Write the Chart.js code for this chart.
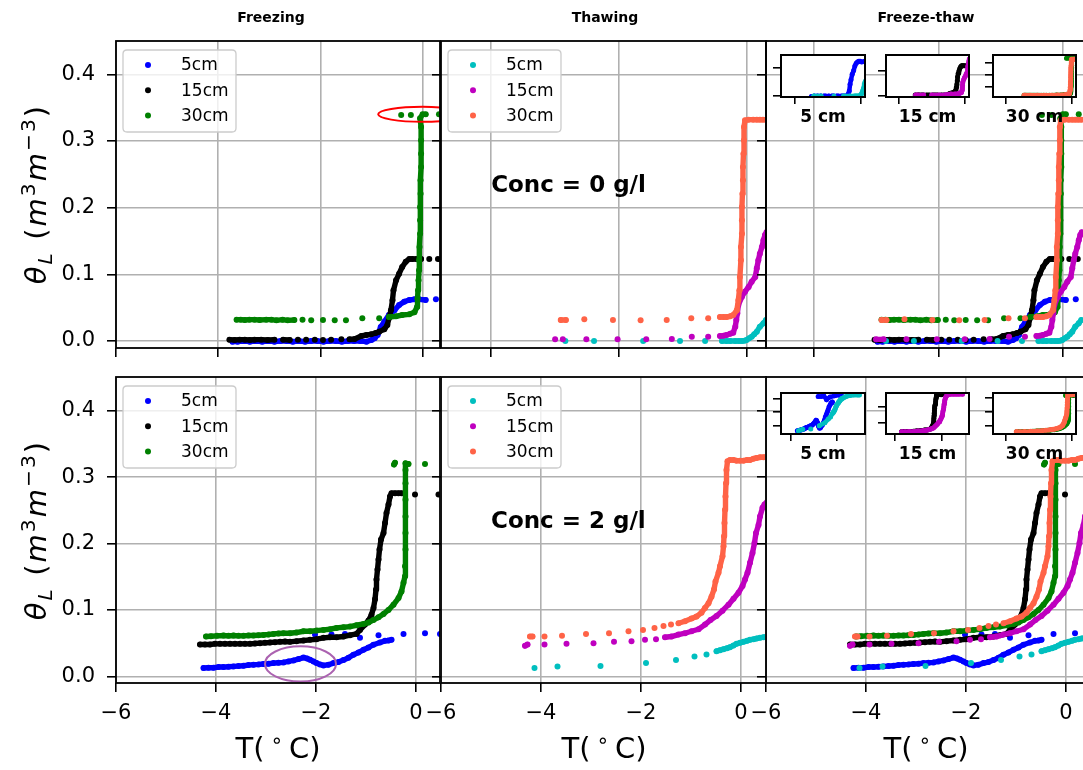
<!DOCTYPE html>
<html>
<head>
<meta charset="utf-8">
<title>Liquid water content during freezing and thawing</title>
<script src="https://cdn.jsdelivr.net/npm/chart.js@4.4.0/dist/chart.umd.min.js"></script>
<style>
  html, body { margin: 0; padding: 0; background: #fff; }
  body { position: relative; width: 1083px; height: 770px; overflow: hidden; font-family: "DejaVu Sans", sans-serif; color: #000; }
  canvas { position: absolute; }
  .txt { position: absolute; white-space: nowrap; transform: translate(-50%, -50%); line-height: 1; }
  .col { font-size: 14px; font-weight: bold; }
  .axl { font-size: 29px; }
  .ylab { font-size: 29px; letter-spacing: 2px; transform: translate(-50%, -50%) rotate(-90deg); }
  .ins { font-size: 17px; font-weight: bold; }
  sub, sup { font-size: 70%; line-height: 0; }
</style>
</head>
<body>
<script>
// liquid water content (m3/m3) against soil temperature (°C)
// conc = 0 g/l, freezing
const f0_5cm_T = [-3.72, -3.62, -3.50, -3.38, -3.26, -3.14, -3.02, -2.90, -2.78, -2.66, -2.54, -2.42, -2.30, -2.18, -2.06, -1.94, -1.82, -1.70, -1.58, -1.46, -1.34, -1.22, -1.10, -1.00, -0.94, -0.88, -0.82, -0.75, -0.66, -0.55, -0.46, -0.36, -0.26, -0.16, -0.07, 0.06, 0.26];
const f0_5cm_q = [-0.001, -0.001, 0, -0.001, 0, -0.001, 0, -0.001, 0, 0, -0.001, 0, -0.001, 0, 0, -0.001, 0, 0, -0.001, 0, 0, 0, -0.001, 0.0015, 0.004, 0.009, 0.021, 0.029, 0.039, 0.046, 0.054, 0.059, 0.0615, 0.0625, 0.0625, 0.0615, 0.0625];
const f0_15cm_T = [-3.78, -3.68, -3.58, -3.48, -3.38, -3.29, -3.16, -3.03, -2.90, -2.73, -2.60, -2.44, -2.28, -2.11, -1.95, -1.79, -1.59, -1.43, -1.33, -1.20, -1.10, -1.01, -0.92, -0.85, -0.75, -0.69, -0.66, -0.62, -0.59, -0.57, -0.52, -0.46, -0.40, -0.33, -0.26, -0.20, -0.12, -0.03, 0.13, 0.30];
const f0_15cm_q = [0.002, 0.0015, 0.002, 0.002, 0.0015, 0.002, 0.002, 0.0015, 0.002, 0.002, 0.0015, 0.002, 0.002, 0.002, 0.0015, 0.002, 0.0025, 0.0025, 0.003, 0.0075, 0.009, 0.010, 0.012, 0.014, 0.0175, 0.024, 0.034, 0.046, 0.061, 0.076, 0.091, 0.101, 0.111, 0.119, 0.123, 0.123, 0.123, 0.123, 0.123, 0.123];
const f0_30cm_T = [-3.64, -3.56, -3.48, -3.39, -3.29, -3.19, -3.06, -2.96, -2.86, -2.74, -2.64, -2.51, -2.35, -2.18, -1.95, -1.72, -1.50, -1.18, -0.85, -0.66, -0.52, -0.40, -0.26, -0.16, -0.11, -0.10, -0.09, -0.08, -0.07, -0.07, -0.06, -0.05, -0.05, -0.05, -0.04, -0.04, -0.03, -0.03, -0.03, -0.03, -0.05, 0.00, 0.06, 0.32, -0.23, -0.42];
const f0_30cm_q = [0.032, 0.032, 0.0315, 0.032, 0.032, 0.0315, 0.032, 0.032, 0.031, 0.032, 0.031, 0.0315, 0.032, 0.031, 0.0315, 0.031, 0.031, 0.034, 0.034, 0.036, 0.037, 0.039, 0.040, 0.043, 0.051, 0.064, 0.076, 0.091, 0.106, 0.121, 0.141, 0.161, 0.181, 0.201, 0.221, 0.241, 0.261, 0.281, 0.301, 0.321, 0.334, 0.340, 0.340, 0.340, 0.339, 0.339];
// conc = 0 g/l, thawing
const t0_5cm_T = [-3.55, -2.99, -2.03, -1.31, -0.82, -0.49, -0.40, -0.33, -0.23, -0.16, -0.10, -0.05, -0.01, 0.04, 0.09, 0.14, 0.19, 0.25, 0.32, 0.37];
const t0_5cm_q = [0, 0, 0, 0, 0, 0, 0, 0, 0, 0, 0, 0.0005, 0.0015, 0.004, 0.0065, 0.010, 0.014, 0.0215, 0.0265, 0.0315];
const t0_15cm_T = [-3.75, -3.60, -3.14, -2.53, -1.97, -1.47, -1.08, -0.76, -0.53, -0.46, -0.40, -0.33, -0.27, -0.23, -0.21, -0.19, -0.17, -0.10, -0.04, 0.03, 0.09, 0.16, 0.19, 0.22, 0.25, 0.29, 0.32, 0.35, 0.38];
const t0_15cm_q = [0.0025, 0.0025, 0.0025, 0.0025, 0.0025, 0.003, 0.0065, 0.0065, 0.0075, 0.008, 0.009, 0.011, 0.0125, 0.0215, 0.0315, 0.0415, 0.054, 0.0665, 0.074, 0.081, 0.089, 0.096, 0.109, 0.121, 0.131, 0.141, 0.151, 0.159, 0.163];
const t0_30cm_T = [-3.64, -3.54, -3.18, -2.62, -2.08, -1.57, -1.09, -0.76, -0.53, -0.46, -0.40, -0.33, -0.27, -0.20, -0.17, -0.15, -0.14, -0.12, -0.12, -0.10, -0.10, -0.10, -0.09, -0.08, -0.08, -0.07, -0.06, -0.06, -0.04, 0.03, 0.12, 0.19, 0.25, 0.31, 0.37];
const t0_30cm_q = [0.0315, 0.0315, 0.0325, 0.0315, 0.031, 0.0315, 0.034, 0.034, 0.036, 0.036, 0.036, 0.037, 0.039, 0.046, 0.061, 0.076, 0.096, 0.121, 0.141, 0.161, 0.181, 0.201, 0.221, 0.241, 0.261, 0.281, 0.301, 0.321, 0.331, 0.332, 0.332, 0.332, 0.332, 0.332, 0.332];
// conc = 2 g/l, freezing
const f2_5cm_T = [-4.25, -4.15, -4.05, -3.95, -3.85, -3.75, -3.65, -3.55, -3.45, -3.35, -3.25, -3.15, -3.05, -2.95, -2.85, -2.75, -2.65, -2.55, -2.45, -2.35, -2.25, -2.18, -2.12, -2.05, -1.99, -1.92, -1.85, -1.75, -1.65, -1.55, -1.45, -1.35, -1.25, -1.15, -1.05, -0.95, -0.85, -0.72, -0.62, -0.55, -0.49, -2.02, -1.69, -1.42, -1.12, -0.75, -0.25, 0.18, 0.48];
const f2_5cm_q = [0.0126, 0.013, 0.013, 0.014, 0.014, 0.0145, 0.015, 0.0155, 0.016, 0.017, 0.0176, 0.018, 0.0187, 0.019, 0.020, 0.0205, 0.021, 0.0225, 0.024, 0.026, 0.0283, 0.027, 0.025, 0.0225, 0.020, 0.018, 0.0165, 0.0175, 0.020, 0.0215, 0.0245, 0.028, 0.0327, 0.036, 0.040, 0.0435, 0.0477, 0.051, 0.0535, 0.054, 0.055, 0.063, 0.063, 0.064, 0.058, 0.062, 0.064, 0.065, 0.064];
const f2_15cm_T = [-4.32, -4.22, -4.12, -4.02, -3.92, -3.82, -3.72, -3.62, -3.52, -3.42, -3.32, -3.22, -3.12, -3.02, -2.92, -2.82, -2.72, -2.62, -2.52, -2.39, -2.25, -2.12, -1.99, -1.85, -1.72, -1.59, -1.45, -1.32, -1.19, -1.12, -1.02, -0.95, -0.89, -0.85, -0.82, -0.80, -0.79, -0.77, -0.75, -0.73, -0.70, -0.65, -0.62, -0.59, -0.55, -0.52, -0.49, -0.42, -0.35, -0.29, -0.02, 0.45];
const f2_15cm_q = [0.048, 0.048, 0.048, 0.049, 0.049, 0.049, 0.049, 0.049, 0.049, 0.049, 0.049, 0.0495, 0.050, 0.0505, 0.051, 0.0515, 0.052, 0.0525, 0.052, 0.053, 0.054, 0.055, 0.056, 0.058, 0.059, 0.059, 0.060, 0.062, 0.064, 0.070, 0.078, 0.084, 0.093, 0.103, 0.116, 0.131, 0.146, 0.161, 0.176, 0.191, 0.206, 0.216, 0.231, 0.246, 0.259, 0.271, 0.276, 0.276, 0.276, 0.276, 0.274, 0.274];
const f2_30cm_T = [-4.20, -4.10, -3.98, -3.85, -3.75, -3.65, -3.55, -3.45, -3.35, -3.25, -3.15, -3.05, -2.95, -2.85, -2.75, -2.65, -2.52, -2.39, -2.25, -2.12, -1.99, -1.85, -1.72, -1.59, -1.45, -1.32, -1.19, -1.05, -0.95, -0.85, -0.75, -0.65, -0.55, -0.45, -0.35, -0.29, -0.25, -0.22, -0.22, -0.21, -0.21, -0.21, -0.21, -0.21, -0.21, -0.21, -0.15, 0.18, -0.44, -0.42];
const f2_30cm_q = [0.060, 0.0605, 0.061, 0.0615, 0.061, 0.0615, 0.061, 0.061, 0.0615, 0.0615, 0.062, 0.0625, 0.063, 0.064, 0.0645, 0.065, 0.065, 0.066, 0.068, 0.068, 0.069, 0.070, 0.071, 0.073, 0.074, 0.075, 0.077, 0.079, 0.081, 0.085, 0.089, 0.094, 0.100, 0.108, 0.118, 0.128, 0.141, 0.151, 0.166, 0.191, 0.216, 0.241, 0.266, 0.291, 0.311, 0.321, 0.320, 0.320, 0.319, 0.322];
// conc = 2 g/l, thawing
const t2_5cm_T = [-4.13, -3.67, -2.81, -1.90, -1.30, -0.93, -0.69, -0.49, -0.42, -0.35, -0.28, -0.22, -0.15, -0.09, -0.02, 0.05, 0.12, 0.18, 0.25, 0.31, 0.38, 0.45, 0.52, 0.60, 0.70, 0.85, 1.00, 1.20, 1.40, 1.60, 1.80, 2.00, 2.20, 2.40];
const t2_5cm_q = [0.0126, 0.015, 0.0155, 0.020, 0.0245, 0.030, 0.033, 0.038, 0.0395, 0.041, 0.0425, 0.044, 0.0465, 0.049, 0.0505, 0.052, 0.0535, 0.055, 0.056, 0.057, 0.058, 0.059, 0.060, 0.0605, 0.061, 0.062, 0.063, 0.064, 0.0645, 0.065, 0.065, 0.0655, 0.065, 0.065];
const t2_15cm_T = [-4.32, -4.27, -3.93, -3.49, -2.95, -2.54, -2.19, -1.92, -1.70, -1.52, -1.39, -1.25, -1.12, -0.99, -0.85, -0.72, -0.61, -0.49, -0.37, -0.25, -0.15, -0.05, 0.03, 0.08, 0.13, 0.18, 0.23, 0.27, 0.30, 0.35, 0.38, 0.43, 0.47, 0.55, 0.65, 0.80, 1.00, 1.30, 1.60, 1.90, 2.30];
const t2_15cm_q = [0.046, 0.048, 0.048, 0.049, 0.050, 0.052, 0.053, 0.055, 0.056, 0.059, 0.060, 0.063, 0.065, 0.068, 0.071, 0.078, 0.085, 0.091, 0.099, 0.108, 0.117, 0.126, 0.136, 0.146, 0.156, 0.171, 0.186, 0.201, 0.216, 0.228, 0.241, 0.254, 0.259, 0.266, 0.272, 0.276, 0.277, 0.278, 0.278, 0.277, 0.277];
const t2_30cm_T = [-4.22, -4.17, -3.93, -3.58, -3.10, -2.64, -2.25, -1.96, -1.73, -1.55, -1.40, -1.25, -1.12, -0.99, -0.89, -0.79, -0.72, -0.65, -0.59, -0.54, -0.51, -0.45, -0.42, -0.37, -0.35, -0.34, -0.33, -0.32, -0.31, -0.30, -0.29, -0.27, -0.22, -0.15, -0.09, -0.02, 0.05, 0.12, 0.18, 0.25, 0.31, 0.38, 0.45, 0.52];
const t2_30cm_q = [0.060, 0.060, 0.060, 0.061, 0.064, 0.065, 0.068, 0.070, 0.073, 0.076, 0.078, 0.080, 0.083, 0.087, 0.090, 0.096, 0.103, 0.110, 0.120, 0.131, 0.143, 0.156, 0.166, 0.181, 0.196, 0.211, 0.231, 0.251, 0.271, 0.291, 0.311, 0.324, 0.326, 0.326, 0.325, 0.325, 0.325, 0.326, 0.326, 0.328, 0.329, 0.330, 0.330, 0.331];

const depths = ['5cm', '15cm', '30cm'];
const insetNames = ['5 cm', '15 cm', '30 cm'];
const stages = ['Freezing', 'Thawing', 'Freeze-thaw'];
const concNotes = ['Conc = 0 g/l', 'Conc = 2 g/l'];
const xTicksA = [-6, -4, -2, 0];
const xTicksB = [-5, -2.5, 0];
const yTicks = [0, 0.1, 0.2, 0.3, 0.4];
const insetXTicks = [-5, 0];

const freezeColors = ['#0000ff', '#000000', '#008000'];
const thawColors = ['#00bfbf', '#bf00bf', '#ff6347'];

const rows = [
  { freeze: [[f0_5cm_T, f0_5cm_q], [f0_15cm_T, f0_15cm_q], [f0_30cm_T, f0_30cm_q]],
    thaw: [[t0_5cm_T, t0_5cm_q], [t0_15cm_T, t0_15cm_q], [t0_30cm_T, t0_30cm_q]] },
  { freeze: [[f2_5cm_T, f2_5cm_q], [f2_15cm_T, f2_15cm_q], [f2_30cm_T, f2_30cm_q]],
    thaw: [[t2_5cm_T, t2_5cm_q], [t2_15cm_T, t2_15cm_q], [t2_30cm_T, t2_30cm_q]] }
];

// highlighted regions (centre and half-axes in data units)
const ringTop = { T: 0.0, q: 0.34, dT: 0.87, dq: 0.0112, color: '#ff0000' };
const ringBottom = { T: -2.31, q: 0.0188, dT: 0.71, dq: 0.0264, color: '#ab62b0' };

// layout
const colsX = [[116, 440], [441, 766], [766, 1091]];
const rowsY = [[41, 348], [377, 683]];
const xRange = [[[-6, 0.34], [-5.98, 0.37], [-5.96, 0.566]], [[-6, 0.48], [-6, 0.5], [-6, 0.5]]];
const yRange = [[-0.0105, 0.45], [-0.01, 0.451]];
const xTickSet = [[xTicksA, xTicksB, xTicksB], [xTicksA, xTicksA, xTicksA]];
const insetX = [[781, 865], [886, 969], [993, 1076]];
const insetY = [[55, 97], [393, 434]];
const insetXRange = [[[-6, 0.3], [-6, 0.3], [-6, 0.3]], [[-6, 3], [-6, 3], [-6, 0.35]]];
const insetYRange = [[[-0.002, 0.074], [-0.006, 0.167], [0.017, 0.367]], [[0.008, 0.068], [0.034, 0.285], [0.044, 0.337]]];
const insetYTicks = [[[0, 0.05], [0, 0.1], [0.1, 0.2, 0.3]], [[0.02, 0.04, 0.06], [0.1, 0.2], [0.1, 0.2, 0.3]]];

Chart.defaults.font.family = '"DejaVu Sans", sans-serif';
Chart.defaults.color = '#000';

const pts = (T, q) => T.map((t, i) => ({ x: t, y: q[i] }));
const fmtX = v => (v < 0 ? '\u2212' : '') + Math.abs(v);
const fmtY = v => v.toFixed(1);

// neighbouring samples closer than a dot are joined so dense runs read as a trail of dots
function trail(color) {
  return {
    borderColor: ctx => {
      const dx = Math.abs(ctx.p1.x - ctx.p0.x), dy = Math.abs(ctx.p1.y - ctx.p0.y);
      return dx < 7.5 && dy < 28 ? color : 'rgba(0,0,0,0)';
    }
  };
}

function series(pair, color, label, r) {
  return {
    label, data: pts(pair[0], pair[1]),
    showLine: true, borderColor: color, borderWidth: 1.8 * r,
    borderCapStyle: 'round', borderJoinStyle: 'round',
    backgroundColor: color, pointBackgroundColor: color, pointBorderWidth: 0,
    pointRadius: r, pointHoverRadius: r, tension: 0, fill: false, clip: 0,
    segment: trail(color)
  };
}

function axis(min, max, ticks, o) {
  return {
    type: 'linear', min, max,
    afterBuildTicks: s => { s.ticks = ticks.map(v => ({ value: v })); },
    afterFit: s => { if (o.horizontal) s.height = o.size; else s.width = o.size; },
    grid: { drawOnChartArea: o.grid, color: '#b0b0b0', lineWidth: 1.6, drawTicks: true,
            tickLength: o.tick, tickColor: '#000', tickWidth: 1.6 },
    border: { display: false },
    ticks: { display: o.labels, color: '#000', font: { size: 21 }, padding: o.pad,
             maxRotation: 0, minRotation: 0, autoSkip: false, callback: o.fmt }
  };
}

function roundBox(c, x, y, w, h, r) {
  c.beginPath();
  c.moveTo(x + r, y); c.lineTo(x + w - r, y); c.quadraticCurveTo(x + w, y, x + w, y + r);
  c.lineTo(x + w, y + h - r); c.quadraticCurveTo(x + w, y + h, x + w - r, y + h);
  c.lineTo(x + r, y + h); c.quadraticCurveTo(x, y + h, x, y + h - r);
  c.lineTo(x, y + r); c.quadraticCurveTo(x, y, x + r, y); c.closePath();
}

const framePlugin = {
  id: 'frame',
  beforeDraw(chart, args, o) {
    if (!o.fill) return;
    const a = chart.chartArea, c = chart.ctx;
    c.save(); c.fillStyle = o.fill;
    c.fillRect(a.left, a.top, a.right - a.left, a.bottom - a.top); c.restore();
  },
  afterDraw(chart, args, o) {
    const a = chart.chartArea, c = chart.ctx;
    c.save(); c.strokeStyle = '#000'; c.lineWidth = o.width || 1.8;
    c.strokeRect(a.left, a.top, a.right - a.left, a.bottom - a.top); c.restore();
  }
};

const keyPlugin = {
  id: 'key',
  afterDatasetsDraw(chart, args, o) {
    if (!o.items) return;
    const a = chart.chartArea, c = chart.ctx;
    const x = a.left + 7, y = a.top + o.top;
    c.save();
    roundBox(c, x, y, 113, 82, 4);
    c.fillStyle = 'rgba(255,255,255,0.8)'; c.fill();
    c.strokeStyle = '#cccccc'; c.lineWidth = 1.3; c.stroke();
    c.font = '17px "DejaVu Sans"'; c.textBaseline = 'middle'; c.textAlign = 'left';
    o.items.forEach((it, i) => {
      const cy = y + 15 + i * 25.3;
      c.fillStyle = it.color; c.beginPath(); c.arc(a.left + 32, cy, 3, 0, Math.PI * 2); c.fill();
      c.fillStyle = '#000'; c.fillText(it.label, a.left + 65, cy + 1);
    });
    c.restore();
  }
};

const ringPlugin = {
  id: 'rings',
  afterDatasetsDraw(chart, args, o) {
    if (!o.list) return;
    const xs = chart.scales.x, ys = chart.scales.y, a = chart.chartArea, c = chart.ctx;
    c.save();
    c.beginPath(); c.rect(a.left, a.top, a.right - a.left, a.bottom - a.top); c.clip();
    o.list.forEach(e => {
      const cx = xs.getPixelForValue(e.T), cy = ys.getPixelForValue(e.q);
      const rx = Math.abs(xs.getPixelForValue(e.T + e.dT) - cx);
      const ry = Math.abs(ys.getPixelForValue(e.q + e.dq) - cy);
      c.beginPath(); c.ellipse(cx, cy, rx, ry, 0, 0, Math.PI * 2);
      c.strokeStyle = e.color; c.lineWidth = 2; c.stroke();
    });
    c.restore();
  }
};

const notePlugin = {
  id: 'note',
  afterDatasetsDraw(chart, args, o) {
    if (!o.text) return;
    const c = chart.ctx;
    c.save(); c.font = 'bold 23px "DejaVu Sans"'; c.fillStyle = '#000';
    c.textAlign = 'left'; c.textBaseline = 'middle';
    c.fillText(o.text, chart.scales.x.getPixelForValue(o.T), chart.scales.y.getPixelForValue(o.q));
    c.restore();
  }
};

function place(x0, y0, x1, y1, p) {
  const cv = document.createElement('canvas');
  const w = x1 - x0 + p.l + p.r, h = y1 - y0 + p.t + p.b;
  cv.width = w; cv.height = h;
  cv.style.left = (x0 - p.l) + 'px'; cv.style.top = (y0 - p.t) + 'px';
  cv.style.width = w + 'px'; cv.style.height = h + 'px';
  document.body.appendChild(cv);
  return cv;
}

function draw(cv, p, datasets, scales, extra) {
  datasets.forEach((d, i) => { d.order = datasets.length - i; });
  return new Chart(cv, {
    type: 'scatter',
    data: { datasets },
    options: {
      responsive: false, devicePixelRatio: 1, animation: false, events: [],
      layout: { padding: { top: p.t, right: p.r, left: 0, bottom: 0 } },
      scales,
      plugins: Object.assign({ legend: { display: false }, tooltip: { enabled: false } }, extra)
    },
    plugins: [framePlugin, keyPlugin, ringPlugin, notePlugin]
  });
}

// main panels
rows.forEach((row, r) => {
  [0, 1, 2].forEach(c => {
    const [x0, x1] = colsX[c], [y0, y1] = rowsY[r];
    const p = { l: c === 0 ? 80 : 30, r: 14, t: 30, b: r === 1 ? 46 : 30 };
    const cv = place(x0, y0, x1, y1, p);
    let sets = [];
    if (c !== 1) row.freeze.forEach((s, k) => sets.push(series(s, freezeColors[k], depths[k], 3)));
    if (c !== 0) row.thaw.forEach((s, k) => sets.push(series(s, thawColors[k], depths[k], 3)));
    const extra = { frame: { width: 1.8 } };
    if (c === 0) extra.key = { top: 9, items: depths.map((d, k) => ({ label: d, color: freezeColors[k] })) };
    if (c === 1) {
      extra.key = { top: 9, items: depths.map((d, k) => ({ label: d, color: thawColors[k] })) };
      extra.note = { text: concNotes[r], T: -5, q: 0.232 };
    }
    if (c === 0) extra.rings = { list: [r === 0 ? ringTop : ringBottom] };
    draw(cv, p, sets, {
      x: axis(xRange[r][c][0], xRange[r][c][1], xTickSet[r][c],
               { horizontal: true, size: p.b, grid: true, tick: 9, labels: r === 1, pad: 9, fmt: fmtX }),
      y: axis(yRange[r][0], yRange[r][1], yTicks,
               { horizontal: false, size: p.l, grid: true, tick: 9, labels: c === 0, pad: 12, fmt: fmtY })
    }, extra);
  });
});

// per-depth insets in the freeze-thaw panels
rows.forEach((row, r) => {
  [0, 1, 2].forEach(k => {
    const [x0, x1] = insetX[k], [y0, y1] = insetY[r];
    const p = { l: 12, r: 4, t: 4, b: 10 };
    const cv = place(x0, y0, x1, y1, p);
    const sets = [series(row.freeze[k], freezeColors[k], depths[k], 2.5),
                  series(row.thaw[k], thawColors[k], depths[k], 2.5)];
    draw(cv, p, sets, {
      x: axis(insetXRange[r][k][0], insetXRange[r][k][1], insetXTicks,
              { horizontal: true, size: p.b, grid: false, tick: 7, labels: false, pad: 0, fmt: fmtX }),
      y: axis(insetYRange[r][k][0], insetYRange[r][k][1], insetYTicks[r][k],
              { horizontal: false, size: p.l, grid: false, tick: 8, labels: false, pad: 0, fmt: fmtY })
    }, { frame: { width: 2, fill: '#ffffff' } });
  });
});

// titles and axis labels
function put(html, x, y, cls) {
  const d = document.createElement('div');
  d.className = 'txt ' + cls;
  d.innerHTML = html;
  d.style.left = x + 'px'; d.style.top = y + 'px';
  document.body.appendChild(d);
}
const colCentres = [271, 605, 926];
stages.forEach((s, c) => put(s, colCentres[c], 17, 'col'));
[194, 530].forEach(y => put('<i>θ</i><sub><i>L</i></sub>&nbsp;(<i>m</i><sup>3</sup><i>m</i><sup>−3</sup>)', 36, y, 'ylab'));
[278, 604, 926].forEach(x => put('T(&thinsp;<sup>∘</sup>&thinsp;C)', x, 748, 'axl'));
[0, 1].forEach(r => insetNames.forEach((n, k) =>
  put(n, (insetX[k][0] + insetX[k][1]) / 2, r === 0 ? 116 : 453, 'ins')));
</script>
</body>
</html>
